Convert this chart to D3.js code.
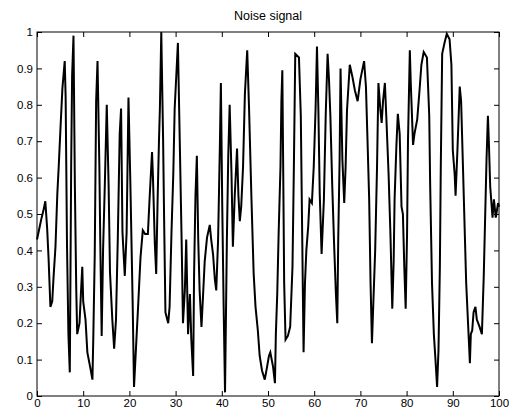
<!DOCTYPE html>
<html>
<head>
<meta charset="utf-8">
<script src="https://cdn.jsdelivr.net/npm/d3@7"></script>
<style>
  html, body { margin: 0; padding: 0; background: #fff; }
  svg text { font-family: "Liberation Sans", Arial, sans-serif; fill: #000; }
</style>
</head>
<body>
<div id="chart"></div>
<script>
// sample positions and values
const t = [
  0, 0.5, 1.0, 1.4, 1.8, 2.2, 2.5, 2.9, 3.3, 3.6, 4.0, 4.4, 4.7, 5.1, 5.5, 6.0, 6.2, 6.5, 6.8, 7.1,
  7.4, 7.6, 7.9, 8.2, 8.5, 8.7, 9.2, 9.5, 9.8, 10.0, 10.5, 10.9, 11.5, 12.0, 12.2, 12.5, 12.8, 13.1, 13.5, 13.7,
  14.0, 14.3, 14.7, 15.1, 15.5, 15.8, 16.3, 16.7, 17.1, 17.5, 17.9, 18.2, 18.5, 19.0, 19.4, 19.8, 20.2, 20.7, 21.0, 21.5,
  21.9, 22.4, 22.9, 23.4, 24.0, 24.4, 24.9, 25.1, 25.5, 25.8, 26.1, 26.4, 26.6, 26.9, 27.3, 27.5, 27.8, 28.4, 28.7, 29.1,
  29.5, 29.8, 30.5, 30.9, 31.3, 31.6, 32.0, 32.3, 32.7, 33.1, 33.4, 33.8, 34.0, 34.3, 34.6, 34.9, 35.2, 35.6, 35.9, 36.3,
  36.8, 37.4, 37.7, 38.1, 38.5, 38.8, 39.2, 39.6, 39.8, 40.1, 40.4, 40.7, 41.1, 41.4, 41.7, 42.1, 42.4, 42.8, 43.3, 43.6,
  43.9, 44.2, 44.6, 45.0, 45.5, 45.9, 46.4, 46.9, 47.3, 47.8, 48.2, 48.7, 49.3, 49.8, 50.2, 50.5, 51.1, 51.5, 51.7, 52.0,
  52.3, 52.7, 52.9, 53.1, 53.3, 53.5, 53.8, 54.3, 54.8, 55.3, 55.6, 55.9, 56.7, 57.1, 57.4, 57.7, 58.0, 58.3, 58.7, 59.0,
  59.5, 59.9, 60.3, 60.6, 60.9, 61.2, 61.6, 62.1, 62.5, 62.9, 63.2, 63.5, 63.9, 64.3, 64.7, 65.0, 65.2, 65.5, 65.7, 66.1,
  66.5, 66.8, 67.1, 67.7, 68.3, 68.8, 69.4, 70.0, 70.8, 71.2, 71.5, 71.9, 72.2, 72.5, 72.7, 73.2, 73.6, 73.9, 74.3, 74.6,
  74.9, 75.3, 75.6, 76.1, 76.5, 76.9, 77.2, 77.4, 77.8, 78.1, 78.5, 78.9, 79.2, 79.5, 79.8, 80.1, 80.3, 80.7, 80.9, 81.4,
  81.7, 82.3, 82.8, 83.2, 83.7, 84.4, 84.9, 85.1, 85.5, 85.9, 86.2, 86.6, 86.9, 87.2, 87.4, 87.7, 88.2, 88.7, 89.3, 89.7,
  90.0, 90.4, 90.6, 91.0, 91.5, 91.8, 92.2, 92.6, 92.9, 93.3, 93.7, 93.9, 94.2, 94.5, 94.9, 95.2, 95.8, 96.3, 96.7, 97.0,
  97.3, 97.6, 97.8, 98.1, 98.6, 98.9, 99.3, 99.8, 100
];
const signal = [
  0.43, 0.46, 0.49, 0.51, 0.535, 0.46, 0.38, 0.245, 0.26, 0.33, 0.41, 0.556, 0.63, 0.74, 0.845, 0.92, 0.82, 0.41, 0.17, 0.065,
  0.64, 0.88, 0.99, 0.575, 0.29, 0.17, 0.2, 0.28, 0.355, 0.26, 0.21, 0.12, 0.08, 0.045, 0.17, 0.39, 0.81, 0.92, 0.63, 0.42,
  0.165, 0.40, 0.59, 0.80, 0.58, 0.34, 0.21, 0.13, 0.21, 0.44, 0.72, 0.79, 0.45, 0.33, 0.45, 0.82, 0.59, 0.26, 0.025, 0.15,
  0.25, 0.38, 0.455, 0.445, 0.445, 0.55, 0.67, 0.6, 0.42, 0.335, 0.535, 0.70, 0.79, 1.0, 0.70, 0.50, 0.23, 0.20, 0.245, 0.445,
  0.61, 0.79, 0.97, 0.70, 0.43, 0.20, 0.29, 0.43, 0.17, 0.28, 0.155, 0.055, 0.335, 0.55, 0.66, 0.43, 0.29, 0.19, 0.265, 0.37,
  0.435, 0.47, 0.43, 0.39, 0.32, 0.29, 0.43, 0.70, 0.86, 0.52, 0.245, 0.01, 0.43, 0.66, 0.80, 0.61, 0.41, 0.55, 0.68, 0.55,
  0.48, 0.52, 0.63, 0.83, 0.95, 0.79, 0.55, 0.335, 0.245, 0.18, 0.11, 0.07, 0.045, 0.08, 0.11, 0.12, 0.08, 0.035, 0.17, 0.28,
  0.445, 0.63, 0.81, 0.895, 0.61, 0.31, 0.155, 0.165, 0.19, 0.355, 0.63, 0.94, 0.93, 0.77, 0.445, 0.12, 0.31, 0.40, 0.465, 0.54,
  0.53, 0.63, 0.79, 0.96, 0.79, 0.555, 0.39, 0.54, 0.775, 0.94, 0.87, 0.77, 0.58, 0.42, 0.28, 0.2, 0.43, 0.65, 0.90, 0.65,
  0.53, 0.63, 0.785, 0.91, 0.875, 0.84, 0.81, 0.87, 0.92, 0.85, 0.72, 0.54, 0.31, 0.145, 0.22, 0.40, 0.63, 0.86, 0.79, 0.75,
  0.81, 0.86, 0.77, 0.61, 0.445, 0.24, 0.37, 0.54, 0.69, 0.775, 0.72, 0.52, 0.50, 0.355, 0.24, 0.445, 0.70, 0.95, 0.86, 0.69,
  0.72, 0.76, 0.84, 0.91, 0.945, 0.93, 0.77, 0.58, 0.31, 0.17, 0.11, 0.025, 0.125, 0.355, 0.63, 0.94, 0.97, 0.995, 0.98, 0.91,
  0.675, 0.61, 0.55, 0.675, 0.85, 0.81, 0.63, 0.445, 0.31, 0.20, 0.09, 0.17, 0.18, 0.23, 0.245, 0.21, 0.19, 0.17, 0.33, 0.49,
  0.65, 0.77, 0.70, 0.575, 0.49, 0.54, 0.49, 0.53, 0.52
];
const xTicks = [0, 10, 20, 30, 40, 50, 60, 70, 80, 90, 100];
const yTicks = [0, 0.1, 0.2, 0.3, 0.4, 0.5, 0.6, 0.7, 0.8, 0.9, 1];
const title = "Noise signal";

const width = 509, height = 415;
const margin = { top: 32, right: 10, bottom: 19, left: 37 };
const innerW = width - margin.left - margin.right;
const innerH = height - margin.top - margin.bottom;

const svg = d3.select("#chart").append("svg")
  .attr("width", width)
  .attr("height", height)
  .style("display", "block");

svg.append("rect").attr("width", width).attr("height", height).attr("fill", "#fff");

const g = svg.append("g")
  .attr("transform", `translate(${margin.left},${margin.top})`);

const x = d3.scaleLinear().domain([0, 100]).range([0, innerW]);
const y = d3.scaleLinear().domain([0, 1]).range([innerH, 0]);

// matlab style: ticks point inward on all four sides
function styleAxis(sel) {
  sel.select(".domain").remove();
  sel.selectAll(".tick line").attr("stroke", "#000");
  sel.selectAll(".tick text").attr("font-size", 11.5).attr("fill", "#000");
}

g.append("g")
  .attr("transform", `translate(0,${innerH})`)
  .call(d3.axisBottom(x).tickValues(xTicks).tickSizeInner(-5).tickSizeOuter(0).tickPadding(3))
  .call(styleAxis);

g.append("g")
  .call(d3.axisTop(x).tickValues(xTicks).tickSizeInner(-5).tickSizeOuter(0).tickFormat(""))
  .call(styleAxis);

g.append("g")
  .call(d3.axisLeft(y).tickValues(yTicks).tickSizeInner(-5).tickSizeOuter(0).tickPadding(4)
    .tickFormat(d => d3.format("~g")(d)))
  .call(styleAxis);

g.append("g")
  .attr("transform", `translate(${innerW},0)`)
  .call(d3.axisRight(y).tickValues(yTicks).tickSizeInner(-5).tickSizeOuter(0).tickFormat(""))
  .call(styleAxis);

const pts = t.map((d, i) => ({ t: d, v: signal[i] }));

const line = d3.line()
  .x(d => x(d.t))
  .y(d => y(d.v));

g.append("path")
  .datum(pts)
  .attr("fill", "none")
  .attr("stroke", "#000")
  .attr("stroke-width", 2)
  .attr("d", line);

g.append("rect")
  .attr("width", innerW)
  .attr("height", innerH)
  .attr("fill", "none")
  .attr("stroke", "#000")
  .attr("stroke-width", 1);

svg.append("text")
  .attr("x", margin.left + innerW / 2)
  .attr("y", margin.top - 12)
  .attr("text-anchor", "middle")
  .attr("font-size", 12.5)
  .text(title);
</script>
</body>
</html>
